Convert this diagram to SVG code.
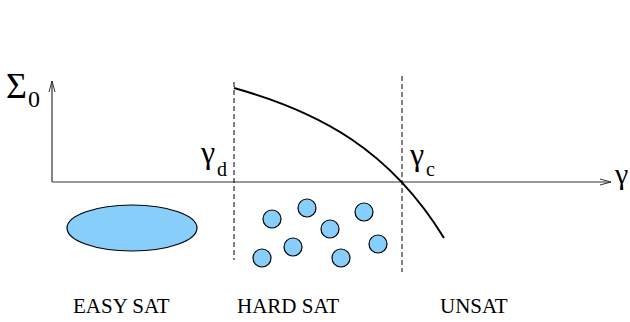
<svg xmlns="http://www.w3.org/2000/svg" width="630" height="322" viewBox="0 0 630 322">
<defs>
<marker id="arr" markerWidth="12" markerHeight="8" refX="11" refY="4" orient="auto" markerUnits="userSpaceOnUse">
<path d="M0,1 L11,4 L0,7" fill="none" stroke="#333" stroke-width="1"/>
</marker>
</defs>
<g id="connectors" fill="none">
<g stroke="#333" stroke-width="1.2">
<line x1="52" y1="182" x2="52" y2="81" marker-end="url(#arr)"/>
<line x1="52" y1="182" x2="611" y2="182" marker-end="url(#arr)"/>
</g>
<g stroke="#000" stroke-width="1" stroke-dasharray="5 3">
<line x1="234" y1="82" x2="234" y2="260"/>
<line x1="402" y1="76" x2="402" y2="272"/>
</g>
<path stroke="#000" stroke-width="2" d="M234,88 C320,112 390,150 444,238"/>
</g>
<g id="labels" fill="#000">
<text x="6" y="98" font-size="36" font-family="Liberation Serif" style="font-family:'Liberation Serif',serif">Σ</text>
<text x="28" y="107" font-size="24" font-family="Liberation Serif" style="font-family:'Liberation Serif',serif">0</text>
<text x="201" y="163" font-size="32" font-family="Liberation Serif" style="font-family:'Liberation Serif',serif">γ</text>
<text x="217" y="176" font-size="20" font-family="Liberation Serif" style="font-family:'Liberation Serif',serif">d</text>
<text x="410" y="165" font-size="32" font-family="Liberation Serif" style="font-family:'Liberation Serif',serif">γ</text>
<text x="426" y="176" font-size="20" font-family="Liberation Serif" style="font-family:'Liberation Serif',serif">c</text>
<text x="615" y="184" font-size="30" font-family="Liberation Serif" style="font-family:'Liberation Serif',serif">γ</text>
</g>
<g id="easy" fill="#87CEFA" stroke="#000" stroke-width="1.2">
<ellipse cx="132" cy="228" rx="65" ry="23"/>
<text x="73" y="313" font-size="21" fill="#000" stroke="none" font-family="Liberation Serif" style="font-family:'Liberation Serif',serif">EASY SAT</text>
</g>
<g id="hard" fill="#87CEFA" stroke="#000" stroke-width="1.2">
<circle cx="272" cy="219" r="9"/>
<circle cx="307" cy="208" r="9"/>
<circle cx="330" cy="229" r="9"/>
<circle cx="364" cy="212" r="9"/>
<circle cx="293" cy="247" r="9"/>
<circle cx="262" cy="258" r="9"/>
<circle cx="341" cy="258" r="9"/>
<circle cx="378" cy="244" r="9"/>
<text x="237" y="313" font-size="21" fill="#000" stroke="none" font-family="Liberation Serif" style="font-family:'Liberation Serif',serif">HARD SAT</text>
</g>
<g id="unsat">
<text x="440" y="313" font-size="21" fill="#000" font-family="Liberation Serif" style="font-family:'Liberation Serif',serif">UNSAT</text>
</g>
</svg>
